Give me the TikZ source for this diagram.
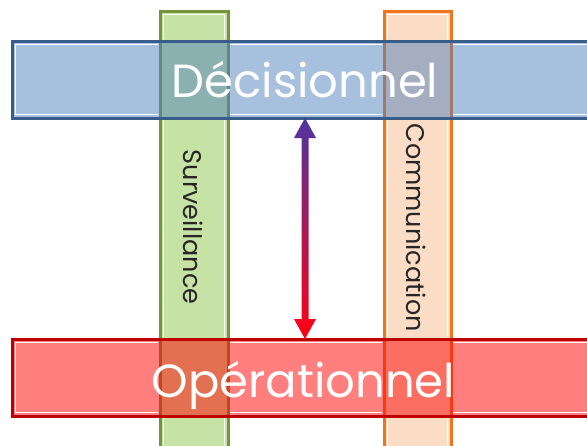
\documentclass[tikz,border=0pt]{standalone}
\usepackage{fontspec}
\newfontfamily\geo{Poppins}
\usetikzlibrary{calc}
\definecolor{decfill}{HTML}{4F81BD}
\definecolor{decline}{HTML}{385D8A}
\definecolor{opfill}{HTML}{FF0000}
\definecolor{opline}{HTML}{C00000}
\definecolor{survfill}{HTML}{C6E2A4}
\definecolor{survline}{HTML}{77933C}
\definecolor{commfill}{HTML}{FBDDC5}
\definecolor{commline}{HTML}{EE7420}
\definecolor{arrtop}{HTML}{4E34A0}
\definecolor{arrmid}{HTML}{8C0A88}
\definecolor{arrbot}{HTML}{FF0010}

\begin{document}
\begin{tikzpicture}[x=1pt,y=-1pt,
    vbar/.style={draw,line width=3pt,minimum width=#1,minimum height=459pt,inner sep=0pt,outer sep=0pt},
    hbar/.style={draw,line width=3pt,fill opacity=0.5,minimum width=586pt,minimum height=77pt,inner sep=0pt,outer sep=0pt},
    vlabel/.style={rotate=-90,text=black!85,font=\geo\fontsize{25.5}{25.5}\selectfont},
    hlabel/.style={anchor=base,text=white,font=\geo\fontsize{46.5}{46.5}\selectfont},
    innerline/.style={white,line width=0.8pt}]
    \useasboundingbox (0,0) rectangle (587,445);
    \clip (0,0) rectangle (587,445);
    \node[vbar=68pt,fill=survfill,draw=survline] (surv) at (194,240.5) {};
    \node[vbar=67pt,fill=commfill,draw=commline] (comm) at (417.5,240.5) {};
    \node[vlabel] (survT) at (193,227) {Surveillance};
    \node[vlabel] (commT) at (416.5,227.5) {Communication};
    \node[hbar,fill=decfill,draw=decline] (dec) at (305,79.5) {};
    \node[hbar,fill=opfill,draw=opline] (op) at (305,377.5) {};
    \begin{scope}[even odd rule]
        \clip (0,0) rectangle (587,445)
            \foreach \v in {surv,comm}{\foreach \h in {dec,op}{
                ($(\v.west |- \h.north)+(-2,-2)$) rectangle ($(\v.east |- \h.south)+(2,2)$)}};
        \foreach \n in {dec,op,surv,comm}
            \draw[innerline] ($(\n.north west)+(3.2,3.2)$) rectangle ($(\n.south east)-(3.2,3.2)$);
    \end{scope}
    \node[hlabel] (decT) at (305,97) {Décisionnel};
    \node[hlabel] (opT) at (303.5,397) {Opérationnel};
    \shade[top color=arrtop,middle color=arrmid,bottom color=arrbot]
        (dec.south) -- ++(11,20) -- ++(-7.5,0) -- ($(op.north)+(3.5,-20)$) -- ++(7.5,0)
        -- (op.north) -- ++(-11,-20) -- ++(7.5,0) -- ($(dec.south)+(-3.5,20)$) -- ++(-7.5,0) -- cycle;
\end{tikzpicture}
\end{document}
